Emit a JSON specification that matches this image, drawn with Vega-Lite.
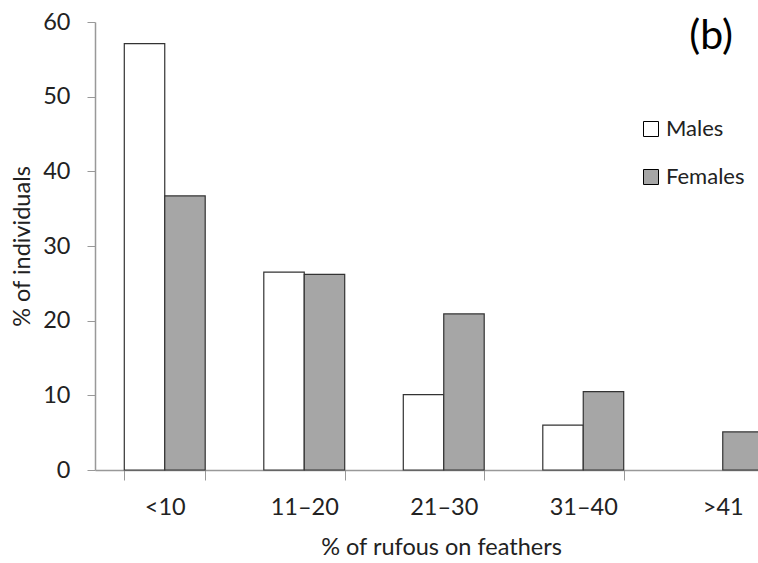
{
  "$schema": "https://vega.github.io/schema/vega-lite/v6.json",
  "width": 663,
  "height": 448,
  "autosize": {"type": "none"},
  "padding": {"left": 95, "top": 22, "right": 0, "bottom": 93},
  "background": "white",
  "title": {"text": "(b)", "anchor": "end", "frame": "group", "fontSize": 41, "fontWeight": "normal", "font": "Lato", "color": "#000000", "dx": -25, "dy": 52},
  "config": {"view": {"stroke": null}, "font": "Lato"},
  "data": {"values": [
    {"category": "<10", "sex": "Males", "pct": 57.1},
    {"category": "<10", "sex": "Females", "pct": 36.7},
    {"category": "11–20", "sex": "Males", "pct": 26.5},
    {"category": "11–20", "sex": "Females", "pct": 26.2},
    {"category": "21–30", "sex": "Males", "pct": 10.1},
    {"category": "21–30", "sex": "Females", "pct": 20.9},
    {"category": "31–40", "sex": "Males", "pct": 6.0},
    {"category": "31–40", "sex": "Females", "pct": 10.5},
    {"category": ">41", "sex": "Males", "pct": 0},
    {"category": ">41", "sex": "Females", "pct": 5.1}
  ]},
  "mark": {"type": "bar", "stroke": "#333333", "strokeWidth": 1.2},
  "encoding": {
    "x": {
      "field": "category", "type": "nominal",
      "sort": ["<10", "11–20", "21–30", "31–40", ">41"],
      "scale": {"range": [0, 697.5], "paddingInner": 0.42, "paddingOuter": 0.21},
      "axis": {
        "title": "% of rufous on feathers",
        "titleFontSize": 23.5, "titleFontWeight": "normal", "titleColor": "#222222",
        "titleX": 346, "titleY": 77, "titleBaseline": "middle",
        "labelAngle": 0, "labelFontSize": 23.5, "labelColor": "#222222", "labelPadding": 27, "labelBaseline": "middle",
        "tickBand": "extent", "tickSize": 10, "tickColor": "#999999",
        "domainColor": "#999999", "domainWidth": 1.5
      }
    },
    "xOffset": {"field": "sex", "type": "nominal", "scale": {"domain": ["Males", "Females"]}},
    "y": {
      "field": "pct", "type": "quantitative",
      "scale": {"domain": [0, 60]},
      "axis": {
        "title": "% of individuals",
        "titleFontSize": 23.5, "titleFontWeight": "normal", "titleColor": "#222222",
        "titleX": -73, "titleBaseline": "middle",
        "values": [0, 10, 20, 30, 40, 50, 60],
        "labelFontSize": 23.5, "labelColor": "#222222", "labelPadding": 17,
        "grid": false, "tickSize": 8, "tickColor": "#999999",
        "domainColor": "#999999", "domainWidth": 1.5
      }
    },
    "strokeOpacity": {"condition": {"test": "datum.pct === 0", "value": 0}, "value": 1},
    "fill": {
      "field": "sex", "type": "nominal",
      "scale": {"domain": ["Males", "Females"], "range": ["#ffffff", "#a6a6a6"]},
      "legend": {
        "title": null, "orient": "none", "legendX": 545, "legendY": 96,
        "symbolType": "square", "symbolSize": 225, "symbolStrokeColor": "#000000", "symbolStrokeWidth": 1,
        "symbolOpacity": 1,
        "labelFontSize": 22, "labelColor": "#222222", "labelOffset": 4,
        "rowPadding": 26
      }
    }
  }
}
